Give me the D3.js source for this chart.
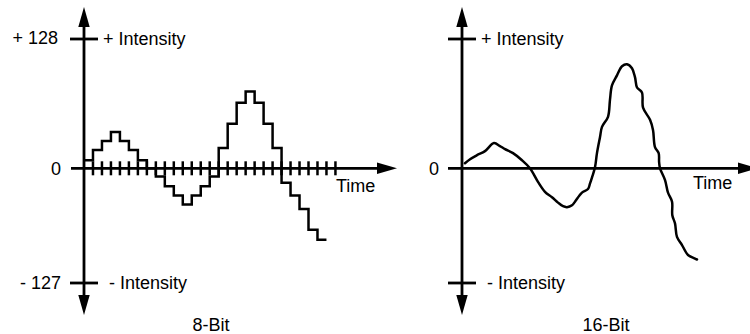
<!DOCTYPE html>
<html lang="en">
<head>
  <meta charset="UTF-8">
  <title>8-Bit vs 16-Bit</title>
  <style>
    body { margin: 0; background: #fff; }
    svg { display: block; }
    text { font-family: "Liberation Sans", Arial, Helvetica, sans-serif; font-size: 18px; fill: #000; }
  </style>
  <script src="https://d3js.org/d3.v7.min.js"></script>
</head>
<body>
  <svg width="750" height="334"></svg>
  <script>
    // data (intensity units, -127..128)
    const bit8Levels = [8, 18, 27, 36, 27, 18, 8, 0, -9, -20, -30, -40, -30, -20, -9,
                        20, 44, 65, 76, 65, 44, 20, -16, -30, -45, -68, -79];
    const sampleTicks = d3.range(1, 29);

    const bit16Time = [0.33, 0.9, 1.67, 2.56, 3.56, 4.23, 4.79, 5.68, 6.68, 7.57, 8.46, 9.24,
                       10.02, 10.69, 11.25, 11.69, 12.25, 12.58, 13.36, 14.03, 14.25, 14.48,
                       14.81, 15.03, 15.37, 15.59, 16.26, 16.48, 16.7, 17.26, 17.82, 18.37,
                       18.93, 19.27, 19.49, 20.04, 20.16, 20.94, 21.27, 21.49, 21.9, 21.95,
                       22.05, 22.61, 22.94, 23.39, 23.42, 23.72, 23.94, 24.5, 25.17, 25.95, 26.17];
    const bit16Value = [5, 9, 13, 17, 25, 22, 19, 15, 8, 0, -15, -26, -32, -38, -42, -43, -41,
                        -37, -27, -23, -17, -10, 1, 15, 31, 41, 51, 68, 82, 92, 101, 103, 99,
                        90, 80, 75, 60, 48, 38, 21, 15, 6, 0, -13, -27, -37, -52, -61, -76,
                        -85, -96, -100, -101];

    const rangeLabels = ["+ 128", "0", "- 127"];
    const intensityLabels = ["+ Intensity", "- Intensity"];
    const panelTitles = ["8-Bit", "16-Bit"];

    const svg = d3.select("svg");
    const step = 8.98;
    const y = d3.scaleLinear().domain([-127, 0, 128]).range([283, 168.3, 39]);
    const panels = [
      { x0: 84, xStart: 71, xEnd: 397, title: panelTitles[0], titleX: 211, timeX: 336, timeY: 192 },
      { x0: 462, xStart: 448, xEnd: 758, title: panelTitles[1], titleX: 606, timeX: 693, timeY: 189 }
    ];

    const black = "#000";
    const axisW = 2.8;

    function arrow(g, tx, ty, dir) {
      // dir: "up", "down", "right"
      const L = 20, H = 5.7;
      let pts;
      if (dir === "up") pts = [[tx, ty], [tx - H, ty + L], [tx + H, ty + L]];
      if (dir === "down") pts = [[tx, ty], [tx - H, ty - L], [tx + H, ty - L]];
      if (dir === "right") pts = [[tx, ty], [tx - L, ty - H], [tx - L, ty + H]];
      g.append("path").attr("d", "M" + pts.join("L") + "Z").attr("fill", black);
    }

    panels.forEach((p, i) => {
      const g = svg.append("g");
      const x = d3.scaleLinear().domain([0, 27]).range([p.x0, p.x0 + 27 * step]);

      // vertical axis
      g.append("line").attr("x1", p.x0).attr("x2", p.x0).attr("y1", 20).attr("y2", 302)
        .attr("stroke", black).attr("stroke-width", axisW);
      arrow(g, p.x0, 7, "up");
      arrow(g, p.x0, 315, "down");

      // horizontal time axis
      g.append("line").attr("x1", p.xStart).attr("x2", p.xEnd - 12).attr("y1", y(0)).attr("y2", y(0))
        .attr("stroke", black).attr("stroke-width", axisW);
      arrow(g, p.xEnd, y(0), "right");

      // +/- intensity ticks
      [128, -127].forEach(v => {
        g.append("line").attr("x1", p.x0 - 14).attr("x2", p.x0 + 14)
          .attr("y1", y(v)).attr("y2", y(v))
          .attr("stroke", black).attr("stroke-width", axisW);
      });

      g.append("text").attr("x", p.x0 + 19).attr("y", y(128) + 6).text(intensityLabels[0]);
      g.append("text").attr("x", p.x0 + 25).attr("y", y(-127) + 6).text(intensityLabels[1]);
      g.append("text").attr("x", p.timeX).attr("y", p.timeY).text("Time");
      g.append("text").attr("x", p.x0 - 23).attr("y", y(0) + 6.5)
        .attr("text-anchor", "end").text(rangeLabels[1]);
      g.append("text").attr("x", p.titleX).attr("y", 331)
        .attr("text-anchor", "middle").text(p.title);

      if (i === 0) {
        g.append("text").attr("x", p.x0 - 26).attr("y", y(128) + 5)
          .attr("text-anchor", "end").text(rangeLabels[0]);
        g.append("text").attr("x", p.x0 - 23).attr("y", y(-127) + 6)
          .attr("text-anchor", "end").text(rangeLabels[2]);

        // sample ticks
        g.selectAll("line.tick").data(sampleTicks).join("line")
          .attr("class", "tick")
          .attr("x1", d => x(d)).attr("x2", d => x(d))
          .attr("y1", y(0) - 7).attr("y2", y(0) + 7)
          .attr("stroke", black).attr("stroke-width", 2.5);

        // stepped 8-bit signal
        const pts = bit8Levels.map((v, k) => [k, v]);
        pts.push([bit8Levels.length, bit8Levels[bit8Levels.length - 1]]);
        const line = d3.line().x(d => x(d[0])).y(d => y(d[1])).curve(d3.curveStepAfter);
        g.append("path").datum(pts).attr("d", line)
          .attr("fill", "none").attr("stroke", black).attr("stroke-width", 2.5)
          .attr("stroke-linejoin", "miter");
      } else {
        const pts = bit16Time.map((t, k) => [t, bit16Value[k]]);
        const line = d3.line().x(d => x(d[0])).y(d => y(d[1])).curve(d3.curveCatmullRom.alpha(0.5));
        g.append("path").datum(pts).attr("d", line)
          .attr("fill", "none").attr("stroke", black).attr("stroke-width", 2.5)
          .attr("stroke-linejoin", "round").attr("stroke-linecap", "round");
      }
    });
  </script>
</body>
</html>
